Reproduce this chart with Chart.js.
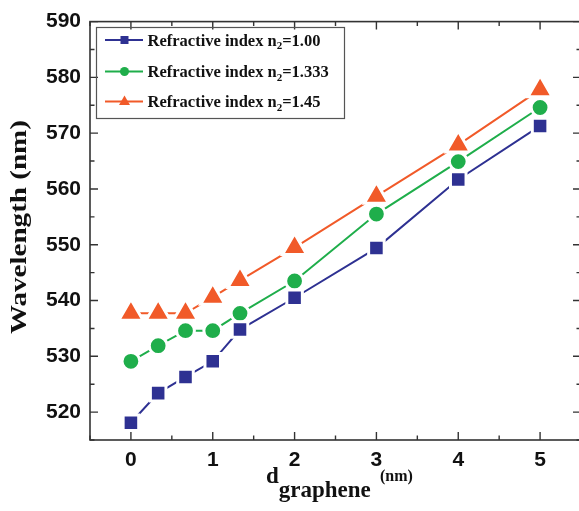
<!DOCTYPE html>
<html>
<head>
<meta charset="utf-8">
<script src="https://cdn.jsdelivr.net/npm/chart.js@4/dist/chart.umd.min.js"></script>
<style>
  html, body { margin: 0; padding: 0; background: #fff; overflow: hidden; }
  #wrap { width: 579px; height: 511px; overflow: hidden; position: relative; }
  #chart { display: block; }
</style>
</head>
<body>
<div id="wrap"><canvas id="chart" width="598" height="511"></canvas></div>
<script>
// ---- data ----
const xValues = [0, 0.333, 0.667, 1, 1.333, 2, 3, 4, 5];
const seriesN100 = [518.1, 523.4, 526.3, 529.1, 534.8, 540.5, 549.4, 561.7, 571.3];
const seriesN1333 = [529.1, 531.9, 534.6, 534.6, 537.7, 543.5, 555.5, 564.9, 574.6];
const seriesN145 = [537.7, 537.7, 537.7, 540.6, 543.6, 549.5, 558.7, 567.9, 577.8];
const indexLabels = ["1.00", "1.333", "1.45"];
const xTicks = [0, 1, 2, 3, 4, 5];
const yTicks = [520, 530, 540, 550, 560, 570, 580, 590];

const COLORS = ["#2e3192", "#1fae4b", "#f15a29"];
const STYLES = ["rect", "circle", "triangle"];
const RADII = [11, 8.9, 14];
const SERIES = [seriesN100, seriesN1333, seriesN145];

const FRAME = "#333";

// ============== frame, inward ticks, legend, axis titles ==============
const decorations = {
  id: "decorations",
  beforeDatasetsDraw(chart) {
    const { ctx, chartArea: a, scales } = chart;
    const xs = scales.x, ys = scales.y;
    ctx.save();
    ctx.strokeStyle = FRAME;
    ctx.lineWidth = 1.6;
    ctx.strokeRect(a.left, a.top, a.right - a.left, a.bottom - a.top);
    ctx.lineWidth = 1.4;
    ctx.beginPath();
    // x ticks: major at integers, minor at halves
    for (let v = -0.5; v <= 5.5001; v += 0.5) {
      const px = xs.getPixelForValue(v);
      const len = Math.abs(v - Math.round(v)) < 1e-6 ? 8 : 4.5;
      ctx.moveTo(px, a.bottom); ctx.lineTo(px, a.bottom - len);
      ctx.moveTo(px, a.top); ctx.lineTo(px, a.top + len);
    }
    // y ticks: major every 10, minor every 5
    for (let v = 515; v <= 590; v += 5) {
      const py = ys.getPixelForValue(v);
      const len = v % 10 === 0 ? 8 : 4.5;
      ctx.moveTo(a.left, py); ctx.lineTo(a.left + len, py);
      ctx.moveTo(a.right, py); ctx.lineTo(a.right - len, py);
    }
    ctx.stroke();
    ctx.restore();
  },
  afterDraw(chart) {
    const { ctx } = chart;
    ctx.save();
    ctx.fillStyle = "#111";

    // ---- legend ----
    ctx.strokeStyle = "#555";
    ctx.lineWidth = 1.2;
    ctx.strokeRect(96.5, 27.5, 248, 91);
    const rows = [40, 71.5, 101.5];
    rows.forEach((ry, i) => {
      ctx.strokeStyle = COLORS[i];
      ctx.lineWidth = 2;
      ctx.beginPath();
      ctx.moveTo(105, ry); ctx.lineTo(143, ry);
      ctx.stroke();
      ctx.fillStyle = COLORS[i];
      ctx.beginPath();
      if (STYLES[i] === "rect") ctx.rect(120.5, ry - 4, 8, 8);
      else if (STYLES[i] === "circle") ctx.arc(124.5, ry, 4.5, 0, Math.PI * 2);
      else { ctx.moveTo(124.5, ry - 6); ctx.lineTo(130, ry + 3.5); ctx.lineTo(119, ry + 3.5); ctx.closePath(); }
      ctx.fill();

      ctx.fillStyle = "#111";
      ctx.textBaseline = "alphabetic";
      ctx.textAlign = "left";
      let tx = 147.5;
      const by = ry + 5.5;
      ctx.font = "bold 16.5px 'Liberation Serif'";
      const t1 = "Refractive index n";
      ctx.fillText(t1, tx, by);
      tx += ctx.measureText(t1).width;
      ctx.font = "bold 11px 'Liberation Serif'";
      ctx.fillText("2", tx, by + 3.5);
      tx += ctx.measureText("2").width;
      ctx.font = "bold 16.5px 'Liberation Serif'";
      ctx.fillText("=" + indexLabels[i], tx, by);
    });

    // ---- y title ----
    ctx.save();
    ctx.translate(20, 227);
    ctx.rotate(-Math.PI / 2);
    ctx.font = "bold 23px 'Liberation Serif'";
    ctx.textAlign = "center";
    ctx.textBaseline = "middle";
    const yt = "Wavelength (nm)";
    const w = ctx.measureText(yt).width;
    ctx.scale(214 / w, 1);
    ctx.fillText(yt, 0, 0);
    ctx.restore();

    // ---- x title ----
    ctx.textAlign = "left";
    ctx.textBaseline = "alphabetic";
    ctx.font = "bold 23px 'Liberation Serif'";
    ctx.fillText("d", 266, 483);
    const dw = ctx.measureText("d").width;
    ctx.fillText("graphene", 266 + dw, 497);
    ctx.font = "bold 16px 'Liberation Serif'";
    ctx.fillText("(nm)", 380, 481);

    ctx.restore();
  }
};

// ============== chart ==============
const datasets = SERIES.map((vals, i) => ({
  label: "Refractive index n2=" + indexLabels[i],
  data: xValues.map((x, j) => ({ x: x, y: vals[j] })),
  borderColor: COLORS[i],
  backgroundColor: COLORS[i],
  borderWidth: 2,
  pointStyle: STYLES[i],
  pointRadius: RADII[i],
  pointHoverRadius: RADII[i],
  pointBackgroundColor: COLORS[i],
  pointBorderColor: "#ffffff",
  pointBorderWidth: 3,
  tension: 0,
  fill: false,
}));

const chart = new Chart(document.getElementById("chart").getContext("2d"), {
  type: "line",
  data: { datasets },
  plugins: [decorations],
  options: {
    responsive: false,
    animation: false,
    devicePixelRatio: 1,
    layout: { padding: { left: 0, top: 16.5, right: 3.3, bottom: 0 } },
    scales: {
      x: {
        type: "linear",
        min: -0.5,
        max: 5.5,
        afterFit: s => { s.height = 71; },
        afterBuildTicks: s => { s.ticks = xTicks.map(v => ({ value: v })); },
        grid: { display: false, drawTicks: false },
        border: { display: false },
        ticks: {
          padding: 8,
          color: "#111",
          font: { family: "'Liberation Sans'", weight: "bold", size: 21 },
          maxRotation: 0,
          autoSkip: false,
        },
      },
      y: {
        type: "linear",
        min: 515,
        max: 590,
        afterFit: s => { s.width = 90; },
        afterBuildTicks: s => { s.ticks = yTicks.map(v => ({ value: v })); },
        grid: { display: false, drawTicks: false },
        border: { display: false },
        ticks: {
          padding: 9,
          color: "#111",
          font: { family: "'Liberation Sans'", weight: "bold", size: 21 },
          autoSkip: false,
        },
      },
    },
    plugins: {
      legend: { display: false },
      tooltip: { enabled: false },
    },
  },
});
</script>
</body>
</html>
